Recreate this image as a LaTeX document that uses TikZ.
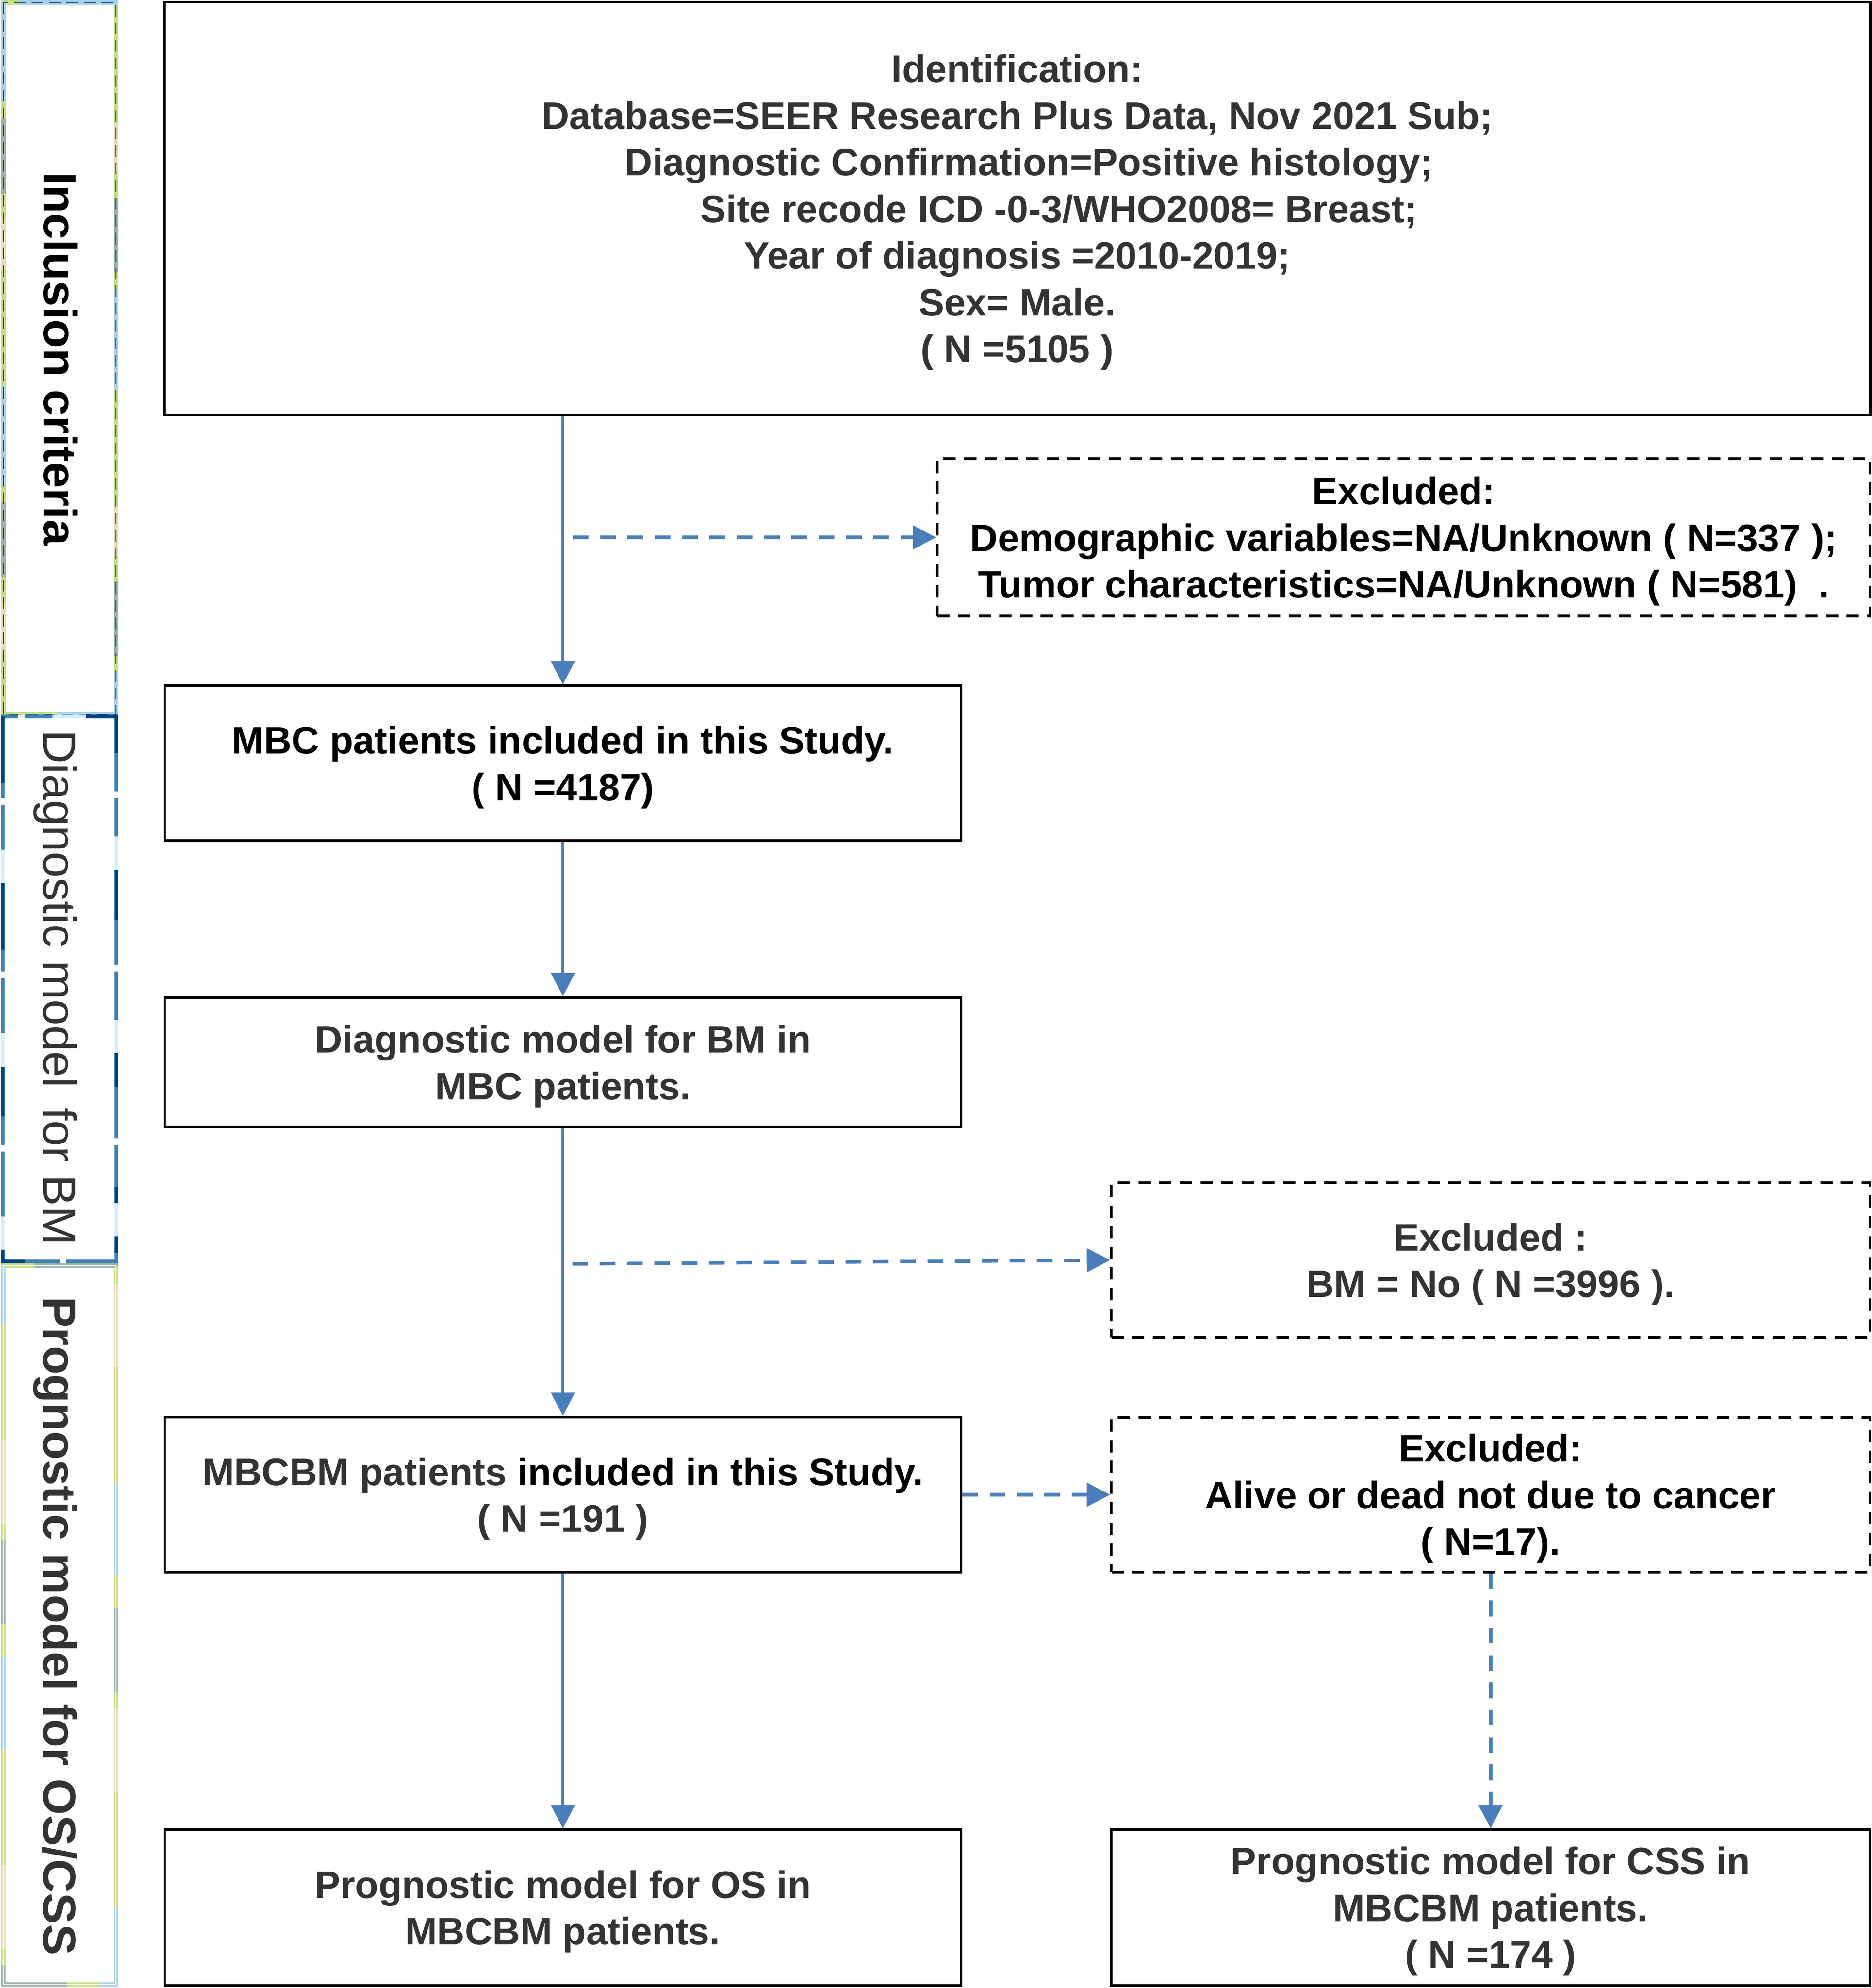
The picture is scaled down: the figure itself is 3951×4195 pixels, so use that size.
\documentclass[tikz,border=0pt]{standalone}
\usepackage{fontspec}
\setmainfont{Liberation Sans}
\usetikzlibrary{arrows.meta}
\definecolor{tgray}{HTML}{333333}
\definecolor{ablue}{HTML}{4A7EBB}
\definecolor{lgreen}{HTML}{C6DD86}
\definecolor{lblue}{HTML}{A8D1E8}
\definecolor{beige}{HTML}{E9DDB5}
\definecolor{ggreen}{HTML}{99B5A5}
\definecolor{dblue}{HTML}{0B4A8B}
\definecolor{mblue}{HTML}{3F80B2}
\definecolor{nblue}{HTML}{004381}
\definecolor{pblue}{HTML}{D4EEFB}
\begin{document}
\begin{tikzpicture}[x=0.01cm,y=-0.01cm,
  box/.style={draw=black, line width=1.5pt, inner sep=0pt, align=center, text depth=0pt,
    font=\bfseries\fontsize{23pt}{28pt}\selectfont},
  solidbox/.style={box, minimum width=16.8cm, minimum height=3.27cm},
  exbox/.style={box, dash pattern=on 7.4pt off 5pt, minimum width=16cm, minimum height=3.26cm},
  sidetxt/.style={rotate=-90, anchor=base, inner sep=0pt, font=\bfseries\fontsize{28pt}{34pt}\selectfont},
  solidarr/.style={draw=ablue, line width=1.7pt, -{Triangle[length=14pt,width=14pt]}},
  dasharr/.style={draw=ablue, line width=2.1pt, dash pattern=on 9.4pt off 7pt, -{Triangle[length=14pt,width=14pt]}}
]
\useasboundingbox (0,0) rectangle (3951,4195);

% ---- side bands ----
\draw[draw=lgreen, line width=2.6pt,
  postaction={draw=lblue, line width=2.6pt, dash pattern=on 60pt off 170pt},
  postaction={draw=beige, line width=2.6pt, dash pattern=on 30pt off 200pt, dash phase=100pt},
  postaction={draw=ggreen, line width=2.6pt, dash pattern=on 45pt off 185pt, dash phase=160pt},
  postaction={draw=dblue, line width=0.6pt, dash pattern=on 7pt off 3.5pt}]
  (8,5) rectangle (245,1508);
\draw[draw=lgreen, line width=2.6pt,
  postaction={draw=lblue, line width=2.6pt, dash pattern=on 55pt off 200pt, dash phase=20pt},
  postaction={draw=ggreen, line width=2.6pt, dash pattern=on 50pt off 205pt, dash phase=90pt},
  postaction={draw=beige, line width=2.6pt, dash pattern=on 50pt off 205pt, dash phase=150pt},
  postaction={draw=white, line width=0.6pt}]
  (7,2670) rectangle (245,4188);
\draw[draw=mblue, line width=2.4pt,
  postaction={draw=nblue, line width=2.4pt, dash pattern=on 40pt off 60pt},
  postaction={draw=pblue, line width=2.4pt, dash pattern=on 20pt off 90pt, dash phase=30pt},
  postaction={draw=white, line width=2.4pt, dash pattern=on 4pt off 100pt, dash phase=55pt}]
  (6,1512) rectangle (245,2662);

\node[sidetxt, text=black] (s1) at (93,757) {Inclusion criteria};
\node[sidetxt, text=tgray, font=\fontsize{28pt}{34pt}\selectfont] (s2) at (91,2084) {Diagnostic model\hspace{0.15em} for BM};
\node[sidetxt, text=tgray] (s3) at (91,3431) {Prognostic model for OS/CSS};

% ---- boxes ----
\node[box, text=tgray, minimum width=35.98cm, minimum height=8.7cm] (top) at (2147,440) {%
Identification:\\
Database=SEER Research Plus Data, Nov 2021 Sub;\\
\hspace*{14pt}Diagnostic Confirmation=Positive histology;\\
\hspace*{50pt}Site recode ICD -0-3/WHO2008= Breast;\\
Year of diagnosis =2010-2019;\\
Sex= Male.\\
( N =5105 )};

\node[exbox, text=black, minimum width=19.67cm, minimum height=3.32cm] (ex1) at (2962.5,1134) {%
Excluded:\\
Demographic variables=NA/Unknown ( N=337 );\\
Tumor characteristics=NA/Unknown ( N=581)\ \ .};

\node[solidbox, text=black] (mbc) at (1188,1610.5) {%
MBC patients included in this Study.\\
( N =4187)};

\node[solidbox, text=tgray, minimum height=2.73cm] (diag) at (1188,2241.5) {%
Diagnostic model for BM in\\
MBC patients.};

\node[exbox, text=tgray] (ex2) at (3146,2659) {%
Excluded :\\
BM = No ( N =3996 ).};

\node[solidbox, text=black] (mbcbm) at (1188,3154) {%
{\color{tgray}MBCBM patients} included in this Study.\\
{\color{tgray}( N =191 )}};

\node[exbox, text=black] (ex3) at (3146,3154) {%
Excluded:\\
Alive or dead not due to cancer\\
( N=17).};

\node[solidbox, text=tgray, minimum height=3.28cm] (os) at (1188,4025) {%
Prognostic model for OS in\\
MBCBM patients.};

\node[box, text=tgray, minimum width=16cm, minimum height=3.28cm] (css) at (3146,4025) {%
Prognostic model for CSS in\\
MBCBM patients.\\
( N =174 )};

% ---- connectors ----
\coordinate (b1) at (1209,1134);
\coordinate (b2) at (1208,2667);
\draw[solidarr] (mbc.north |- top.south) -- (mbc.north);
\draw[dasharr] (b1) -- (ex1.west);
\draw[solidarr] (mbc.south) -- (diag.north);
\draw[solidarr] (diag.south) -- (mbcbm.north);
\draw[dasharr] (b2) -- (ex2.west);
\draw[dasharr] (mbcbm.east) -- (ex3.west);
\draw[solidarr] (mbcbm.south) -- (os.north);
\draw[dasharr] (ex3.south) -- (css.north);
\end{tikzpicture}
\end{document}
